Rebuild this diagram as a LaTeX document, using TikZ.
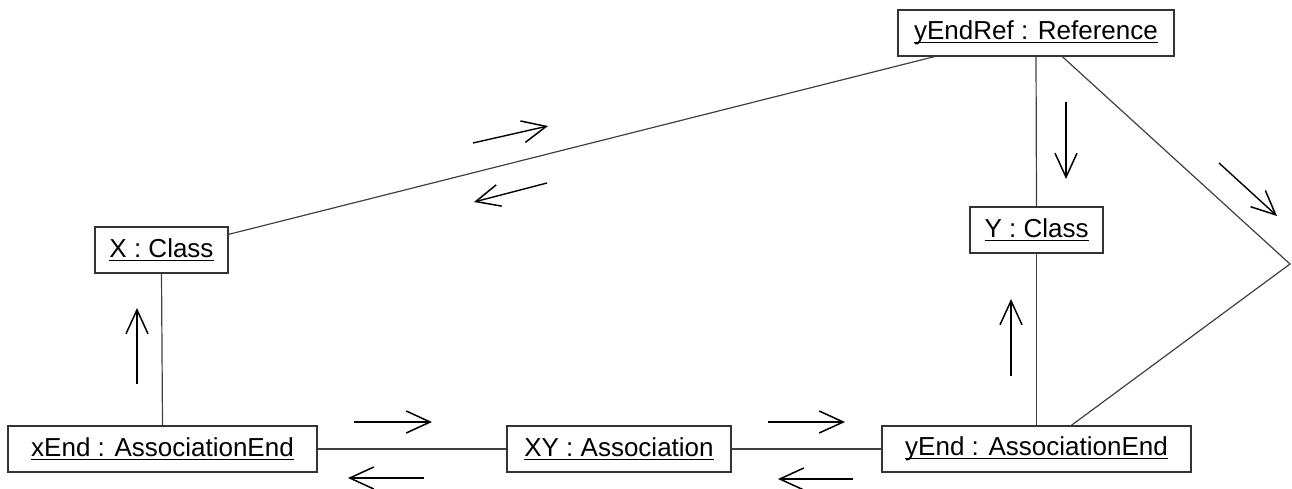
\documentclass[tikz,border=0pt]{standalone}
\usepackage{fontspec}
\setmainfont{Liberation Sans}
\usetikzlibrary{arrows.meta,calc}

% underlined object name, rule a little below the baseline
\newcommand{\objname}[1]{\setbox0\hbox{#1}\rlap{\rule[-3.5pt]{\wd0}{1.3pt}}\box0}

\tikzset{
  obj/.style={draw=black!80, line width=1.3pt, fill=white, inner sep=0pt,
              minimum height=46pt, font=\fontsize{26}{30}\selectfont},
  link/.style={draw=black!75, line width=1.2pt},
  flow/.style={draw=black, line width=1.4pt,
               -{Straight Barb[length=24pt,width=22pt,line width=1.5pt]}}
}

\begin{document}
\begin{tikzpicture}[x=1pt,y=-1pt]
\useasboundingbox (0,0) rectangle (1292,489);

% objects
\node[obj, minimum width=276pt] (ref) at (1036,33)    {\objname{yEndRef : Reference}};
\node[obj, minimum width=133pt] (xc)  at (161.5,250)  {\objname{X : Class}};
\node[obj, minimum width=133pt] (yc)  at (1036.5,230) {\objname{Y : Class}};
\node[obj, minimum width=309pt] (xe)  at (162.5,449)  {\objname{xEnd : AssociationEnd}};
\node[obj, minimum width=224pt] (xy)  at (619,449)    {\objname{XY : Association}};
\node[obj, minimum width=309pt] (ye)  at (1036.5,449) {\objname{yEnd : AssociationEnd}};

% attachment points of the links
\coordinate (xcR)   at ($(xc.north east)+(0,8)$);
\coordinate (refL)  at ($(ref.south west)+(37,0)$);
\coordinate (refR)  at ($(ref.south west)+(165,0)$);
\coordinate (yeR)   at ($(ye.north west)+(190,0)$);
\coordinate (bend)  at (1290,264);

% links
\draw[link] (xc.south) -- (xe.north);
\draw[link] (xe.east) -- (xy.west);
\draw[link] (xy.east) -- (ye.west);
\draw[link] (ye.north) -- (yc.south);
\draw[link] (yc.north) -- (ref.south);
\draw[link] (xcR) -- (refL);
\draw[link] (refR) -- (bend) -- (yeR);

% message direction arrows
\draw[flow] (473,143) -- (548,126);
\draw[flow] (547,183) -- (474,202);
\draw[flow] (1066,102) -- (1066,179);
\draw[flow] (1219,163) -- (1277,216);
\draw[flow] (137,384) -- (137,308);
\draw[flow] (1011,376) -- (1011,299);
\draw[flow] (354,422) -- (432,422);
\draw[flow] (424,478) -- (348,478);
\draw[flow] (768,422) -- (845,422);
\draw[flow] (853,479) -- (778,479);
\end{tikzpicture}
\end{document}
